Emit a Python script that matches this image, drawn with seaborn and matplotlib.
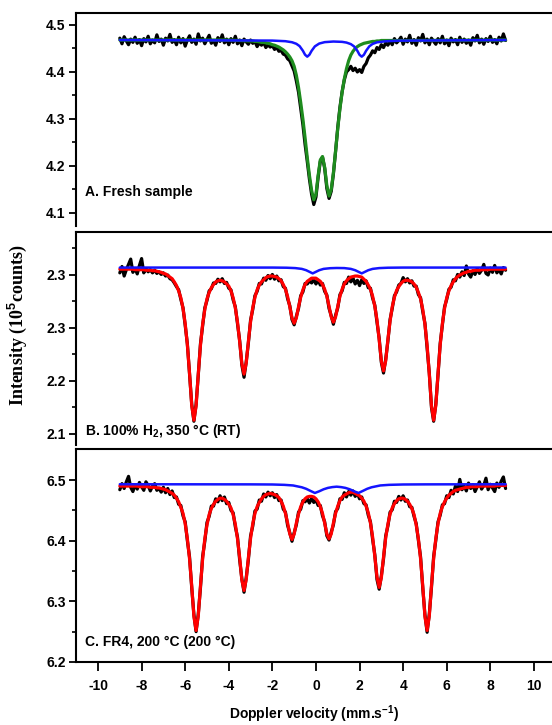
import matplotlib
matplotlib.use("Agg")
import matplotlib.pyplot as plt
import seaborn as sns

# ---------------- data ----------------
VELOCITY = [
    -9.0, -8.9, -8.8, -8.7, -8.6, -8.5, -8.4, -8.3, -8.2, -8.1,
    -8.0, -7.9, -7.8, -7.7, -7.6, -7.5, -7.4, -7.3, -7.2, -7.1,
    -7.0, -6.9, -6.8, -6.7, -6.6, -6.5, -6.4, -6.3, -6.2, -6.1,
    -6.0, -5.9, -5.8, -5.7, -5.6, -5.5, -5.4, -5.3, -5.2, -5.1,
    -5.0, -4.9, -4.8, -4.7, -4.6, -4.5, -4.4, -4.3, -4.2, -4.1,
    -4.0, -3.9, -3.8, -3.7, -3.6, -3.5, -3.4, -3.3, -3.2, -3.1,
    -3.0, -2.9, -2.8, -2.7, -2.6, -2.5, -2.4, -2.3, -2.2, -2.1,
    -2.0, -1.9, -1.8, -1.7, -1.6, -1.5, -1.4, -1.3, -1.2, -1.1,
    -1.0, -0.9, -0.8, -0.7, -0.6, -0.5, -0.4, -0.3, -0.2, -0.1,
    0.0, 0.1, 0.2, 0.3, 0.4, 0.5, 0.6, 0.7, 0.8, 0.9,
    1.0, 1.1, 1.2, 1.3, 1.4, 1.5, 1.6, 1.7, 1.8, 1.9,
    2.0, 2.1, 2.2, 2.3, 2.4, 2.5, 2.6, 2.7, 2.8, 2.9,
    3.0, 3.1, 3.2, 3.3, 3.4, 3.5, 3.6, 3.7, 3.8, 3.9,
    4.0, 4.1, 4.2, 4.3, 4.4, 4.5, 4.6, 4.7, 4.8, 4.9,
    5.0, 5.1, 5.2, 5.3, 5.4, 5.5, 5.6, 5.7, 5.8, 5.9,
    6.0, 6.1, 6.2, 6.3, 6.4, 6.5, 6.6, 6.7, 6.8, 6.9,
    7.0, 7.1, 7.2, 7.3, 7.4, 7.5, 7.6, 7.7, 7.8, 7.9,
    8.0, 8.1, 8.2, 8.3, 8.4, 8.5, 8.6, 8.7,
]

# Panel A - fresh sample
A_DATA = [
    4.472, 4.460, 4.475, 4.466, 4.458, 4.470, 4.463, 4.474, 4.461, 4.469,
    4.456, 4.471, 4.464, 4.476, 4.460, 4.468, 4.462, 4.479, 4.465, 4.470,
    4.457, 4.472, 4.466, 4.480, 4.463, 4.469, 4.458, 4.474, 4.462, 4.471,
    4.455, 4.468, 4.477, 4.463, 4.470, 4.459, 4.481, 4.466, 4.472, 4.460,
    4.469, 4.478, 4.461, 4.467, 4.457, 4.473, 4.465, 4.479, 4.462, 4.470,
    4.458, 4.471, 4.463, 4.476, 4.460, 4.468, 4.456, 4.470, 4.464, 4.459,
    4.468, 4.461, 4.465, 4.454, 4.462, 4.457, 4.463, 4.452, 4.458, 4.453,
    4.456, 4.448, 4.452, 4.444, 4.446, 4.438, 4.436, 4.428, 4.424, 4.413,
    4.402, 4.381, 4.357, 4.322, 4.288, 4.246, 4.210, 4.172, 4.140, 4.118,
    4.134, 4.176, 4.210, 4.219, 4.195, 4.152, 4.131, 4.146, 4.183, 4.231,
    4.282, 4.325, 4.358, 4.383, 4.400, 4.405, 4.412, 4.403, 4.408, 4.400,
    4.405, 4.399, 4.412, 4.418, 4.430, 4.436, 4.445, 4.441, 4.452, 4.448,
    4.458, 4.452, 4.462, 4.457, 4.466, 4.458, 4.471, 4.462, 4.467, 4.474,
    4.459, 4.470, 4.464, 4.478, 4.461, 4.469, 4.457, 4.473, 4.466, 4.480,
    4.462, 4.470, 4.458, 4.472, 4.465, 4.459, 4.471, 4.462, 4.476, 4.460,
    4.468, 4.456, 4.472, 4.464, 4.469, 4.458, 4.474, 4.463, 4.470, 4.461,
    4.468, 4.457, 4.473, 4.466, 4.478, 4.462, 4.470, 4.459, 4.471, 4.465,
    4.476, 4.463, 4.469, 4.460, 4.474, 4.466, 4.481, 4.467,
]
A_GREEN_X = [
    -9.0, -4.0, -3.5,
    -3.0, -2.9, -2.8, -2.7, -2.6, -2.5, -2.4, -2.3, -2.2, -2.1,
    -2.0, -1.9, -1.8, -1.7, -1.6, -1.5, -1.4, -1.3, -1.2, -1.1,
    -1.0, -0.9, -0.8, -0.7, -0.6, -0.5, -0.4, -0.3, -0.2, -0.1,
    0.0, 0.1, 0.2, 0.3, 0.4, 0.5, 0.6, 0.7, 0.8, 0.9,
    1.0, 1.1, 1.2, 1.3, 1.4, 1.5, 1.6, 1.7, 1.8, 1.9,
    2.0, 2.1, 2.2, 2.3, 2.4, 2.5, 2.6, 2.7, 2.8, 2.9,
    3.0, 3.5, 4.0, 8.7,
]
A_GREEN = [
    4.468, 4.468, 4.467,
    4.466, 4.466, 4.465, 4.465, 4.464, 4.463, 4.463, 4.462, 4.461, 4.460,
    4.458, 4.457, 4.455, 4.453, 4.450, 4.447, 4.443, 4.438, 4.432, 4.424,
    4.412, 4.393, 4.367, 4.335, 4.300, 4.260, 4.218, 4.180, 4.148, 4.128,
    4.140, 4.180, 4.213, 4.220, 4.197, 4.158, 4.136, 4.150, 4.185, 4.232,
    4.280, 4.322, 4.357, 4.385, 4.407, 4.424, 4.436, 4.444, 4.450, 4.454,
    4.457, 4.459, 4.461, 4.462, 4.463, 4.464, 4.465, 4.465, 4.466, 4.466,
    4.467, 4.467, 4.467, 4.468,
]
A_BLUE_X = [-9.0, -2.0, -1.4, -1.1, -0.9, -0.75, -0.6, -0.5, -0.4, -0.3,
            -0.2, -0.05, 0.15, 0.4, 0.8, 1.2, 1.4, 1.6, 1.75, 1.9,
            2.0, 2.1, 2.2, 2.3, 2.45, 2.6, 2.8, 3.2, 3.8, 8.7]
A_BLUE = [4.468, 4.4668, 4.4655, 4.4633, 4.460, 4.455, 4.4452, 4.4367, 4.4326, 4.4367,
          4.445, 4.4545, 4.4605, 4.4635, 4.4648, 4.4641, 4.4626, 4.4593, 4.4544, 4.445,
          4.4365, 4.4326, 4.4366, 4.4451, 4.4547, 4.4597, 4.4631, 4.4654, 4.4666, 4.468]

# Panel B - 100% H2, 350 C
B_DATA = [
    2.404, 2.416, 2.398, 2.410, 2.420, 2.430, 2.405, 2.412, 2.402, 2.418,
    2.431, 2.404, 2.412, 2.406, 2.410, 2.404, 2.409, 2.403, 2.406, 2.401,
    2.404, 2.398, 2.400, 2.393, 2.391, 2.385, 2.378, 2.372, 2.354, 2.338,
    2.305, 2.270, 2.212, 2.156, 2.124, 2.156, 2.211, 2.270, 2.304, 2.338,
    2.352, 2.370, 2.374, 2.385, 2.384, 2.392, 2.387, 2.393, 2.384, 2.386,
    2.375, 2.372, 2.353, 2.340, 2.308, 2.276, 2.230, 2.207, 2.236, 2.272,
    2.315, 2.335, 2.361, 2.369, 2.384, 2.383, 2.394, 2.390, 2.399, 2.393,
    2.401, 2.392, 2.398, 2.389, 2.391, 2.378, 2.375, 2.355, 2.342, 2.316,
    2.306, 2.322, 2.337, 2.361, 2.368, 2.384, 2.383, 2.389, 2.385, 2.391,
    2.383, 2.390, 2.381, 2.384, 2.369, 2.362, 2.337, 2.323, 2.307, 2.324,
    2.338, 2.363, 2.370, 2.386, 2.384, 2.396, 2.387, 2.394, 2.383, 2.390,
    2.380, 2.391, 2.384, 2.389, 2.376, 2.375, 2.356, 2.343, 2.311, 2.281,
    2.235, 2.215, 2.241, 2.275, 2.316, 2.337, 2.361, 2.368, 2.381, 2.384,
    2.395, 2.387, 2.393, 2.385, 2.389, 2.379, 2.379, 2.363, 2.357, 2.331,
    2.309, 2.263, 2.215, 2.150, 2.124, 2.157, 2.211, 2.271, 2.305, 2.340,
    2.354, 2.373, 2.377, 2.391, 2.389, 2.401, 2.396, 2.406, 2.399, 2.417,
    2.402, 2.396, 2.408, 2.401, 2.412, 2.403, 2.409, 2.420, 2.403, 2.400,
    2.413, 2.405, 2.418, 2.404, 2.410, 2.402, 2.414, 2.409,
]
B_FIT = [
    2.411, 2.411, 2.411, 2.411, 2.411, 2.411, 2.411, 2.410, 2.410, 2.410,
    2.410, 2.410, 2.409, 2.409, 2.409, 2.408, 2.408, 2.407, 2.406, 2.405,
    2.403, 2.402, 2.399, 2.396, 2.393, 2.387, 2.380, 2.370, 2.357, 2.337,
    2.308, 2.268, 2.214, 2.154, 2.126, 2.153, 2.213, 2.267, 2.307, 2.335,
    2.355, 2.367, 2.376, 2.382, 2.387, 2.389, 2.390, 2.389, 2.387, 2.383,
    2.379, 2.370, 2.357, 2.338, 2.311, 2.274, 2.233, 2.213, 2.234, 2.275,
    2.312, 2.338, 2.358, 2.372, 2.381, 2.387, 2.391, 2.395, 2.397, 2.398,
    2.398, 2.397, 2.396, 2.393, 2.389, 2.382, 2.373, 2.359, 2.340, 2.319,
    2.309, 2.319, 2.340, 2.358, 2.372, 2.382, 2.388, 2.391, 2.394, 2.394,
    2.394, 2.391, 2.388, 2.382, 2.373, 2.360, 2.341, 2.321, 2.311, 2.321,
    2.341, 2.360, 2.373, 2.383, 2.389, 2.393, 2.396, 2.397, 2.398, 2.398,
    2.397, 2.396, 2.392, 2.388, 2.381, 2.373, 2.360, 2.341, 2.315, 2.278,
    2.238, 2.219, 2.238, 2.278, 2.313, 2.340, 2.358, 2.371, 2.378, 2.384,
    2.388, 2.390, 2.390, 2.389, 2.387, 2.383, 2.377, 2.367, 2.355, 2.335,
    2.307, 2.267, 2.213, 2.153, 2.126, 2.154, 2.214, 2.268, 2.308, 2.337,
    2.357, 2.370, 2.380, 2.387, 2.393, 2.397, 2.400, 2.402, 2.404, 2.405,
    2.407, 2.407, 2.408, 2.409, 2.409, 2.409, 2.410, 2.410, 2.410, 2.410,
    2.411, 2.411, 2.411, 2.411, 2.411, 2.411, 2.411, 2.411,
]
B_BLUE_X = [-9.0, -2.0, -1.35, -0.95, -0.65, -0.45, -0.3, -0.15, 0.0, 0.15,
            0.35, 0.65, 0.95, 1.3, 1.6, 1.8, 1.95, 2.1, 2.25, 2.4,
            2.6, 2.9, 3.3, 4.0, 8.7]
B_BLUE = [2.414, 2.414, 2.4137, 2.413, 2.4115, 2.409, 2.406, 2.403, 2.406, 2.409,
          2.4115, 2.4128, 2.4132, 2.413, 2.4115, 2.409, 2.406, 2.403, 2.406, 2.409,
          2.4115, 2.413, 2.4137, 2.414, 2.414]

# Panel C - FR4, 200 C
C_DATA = [
    6.484, 6.494, 6.486, 6.497, 6.506, 6.488, 6.481, 6.492, 6.485, 6.496,
    6.489, 6.483, 6.497, 6.491, 6.482, 6.490, 6.494, 6.483, 6.486, 6.480,
    6.488, 6.479, 6.486, 6.476, 6.482, 6.471, 6.472, 6.460, 6.458, 6.441,
    6.431, 6.400, 6.373, 6.322, 6.278, 6.250, 6.279, 6.322, 6.374, 6.399,
    6.430, 6.440, 6.457, 6.457, 6.469, 6.464, 6.474, 6.466, 6.472, 6.461,
    6.463, 6.450, 6.446, 6.423, 6.406, 6.368, 6.337, 6.315, 6.339, 6.369,
    6.408, 6.424, 6.449, 6.452, 6.467, 6.465, 6.477, 6.472, 6.480, 6.474,
    6.479, 6.471, 6.476, 6.466, 6.467, 6.452, 6.447, 6.425, 6.413, 6.399,
    6.413, 6.426, 6.447, 6.452, 6.466, 6.464, 6.469, 6.462, 6.470, 6.463,
    6.467, 6.458, 6.458, 6.441, 6.431, 6.408, 6.401, 6.414, 6.426, 6.448,
    6.453, 6.469, 6.468, 6.479, 6.472, 6.481, 6.475, 6.482, 6.473, 6.478,
    6.469, 6.472, 6.461, 6.459, 6.442, 6.431, 6.402, 6.377, 6.336, 6.320,
    6.342, 6.370, 6.408, 6.424, 6.447, 6.451, 6.465, 6.463, 6.473, 6.467,
    6.474, 6.465, 6.467, 6.456, 6.455, 6.440, 6.428, 6.400, 6.373, 6.322,
    6.278, 6.249, 6.279, 6.323, 6.374, 6.401, 6.431, 6.442, 6.459, 6.461,
    6.474, 6.471, 6.483, 6.477, 6.490, 6.481, 6.501, 6.484, 6.490, 6.482,
    6.495, 6.486, 6.492, 6.481, 6.489, 6.497, 6.485, 6.491, 6.503, 6.484,
    6.493, 6.487, 6.481, 6.495, 6.488, 6.498, 6.505, 6.486,
]
C_FIT = [
    6.490, 6.490, 6.490, 6.490, 6.490, 6.490, 6.490, 6.490, 6.490, 6.489,
    6.489, 6.489, 6.489, 6.489, 6.488, 6.488, 6.488, 6.487, 6.487, 6.486,
    6.485, 6.484, 6.482, 6.480, 6.478, 6.475, 6.470, 6.464, 6.455, 6.445,
    6.428, 6.403, 6.370, 6.325, 6.275, 6.252, 6.276, 6.325, 6.370, 6.403,
    6.426, 6.443, 6.453, 6.460, 6.465, 6.468, 6.470, 6.470, 6.468, 6.465,
    6.460, 6.454, 6.443, 6.427, 6.403, 6.372, 6.335, 6.318, 6.336, 6.372,
    6.404, 6.428, 6.445, 6.456, 6.463, 6.469, 6.473, 6.476, 6.477, 6.478,
    6.477, 6.476, 6.474, 6.471, 6.465, 6.457, 6.445, 6.429, 6.411, 6.402,
    6.411, 6.429, 6.444, 6.456, 6.464, 6.469, 6.472, 6.473, 6.473, 6.472,
    6.469, 6.464, 6.456, 6.445, 6.429, 6.411, 6.403, 6.411, 6.429, 6.445,
    6.457, 6.466, 6.472, 6.475, 6.477, 6.479, 6.480, 6.480, 6.478, 6.476,
    6.474, 6.470, 6.465, 6.457, 6.446, 6.429, 6.406, 6.374, 6.340, 6.323,
    6.339, 6.373, 6.405, 6.427, 6.444, 6.454, 6.461, 6.466, 6.469, 6.470,
    6.470, 6.468, 6.465, 6.460, 6.453, 6.443, 6.426, 6.403, 6.370, 6.325,
    6.275, 6.252, 6.276, 6.326, 6.371, 6.404, 6.428, 6.445, 6.456, 6.464,
    6.470, 6.475, 6.478, 6.481, 6.483, 6.484, 6.485, 6.486, 6.487, 6.488,
    6.488, 6.489, 6.489, 6.489, 6.489, 6.490, 6.490, 6.490, 6.490, 6.490,
    6.490, 6.490, 6.490, 6.491, 6.491, 6.491, 6.491, 6.491,
]
C_BLUE_X = [-9.0, -3.0, -2.0, -1.45, -1.05, -0.65, -0.45, -0.25, -0.05, 0.15,
            0.35, 0.55, 0.75, 0.95, 1.15, 1.35, 1.55, 1.75, 1.95, 2.15,
            2.35, 2.55, 2.95, 3.35, 4.0, 5.0, 8.7]
C_BLUE = [6.493, 6.4928, 6.4926, 6.492, 6.491, 6.488, 6.4855, 6.482, 6.4786, 6.4814,
          6.4847, 6.487, 6.4883, 6.489, 6.4883, 6.487, 6.4847, 6.4814, 6.4786, 6.482,
          6.4855, 6.488, 6.491, 6.492, 6.4926, 6.4928, 6.493]

PANEL_LABELS = ["A. Fresh sample",
                "B. 100% H$_2$, 350 °C (RT)",
                "C. FR4, 200 °C (200 °C)"]
A_YTICKS = [4.1, 4.2, 4.3, 4.4, 4.5]
A_YTICKLABELS = ["4.1", "4.2", "4.3", "4.4", "4.5"]
A_YMINOR = [4.15, 4.25, 4.35, 4.45]
B_YTICKS = [2.1, 2.2, 2.3, 2.4]
B_YTICKLABELS = ["2.1", "2.2", "2.3", "2.3"]
B_YMINOR = [2.15, 2.25, 2.35, 2.45]
C_YTICKS = [6.2, 6.3, 6.4, 6.5]
C_YTICKLABELS = ["6.2", "6.3", "6.4", "6.5"]
C_YMINOR = [6.25, 6.35, 6.45]
X_TICKS = [-10, -8, -6, -4, -2, 0, 2, 4, 6, 8, 10]
X_TICKLABELS = ["-10", "-8", "-6", "-4", "-2", "0", "2", "4", "6", "8", "10"]

for arr in (A_DATA, B_DATA, B_FIT, C_DATA, C_FIT):
    assert len(arr) == len(VELOCITY), len(arr)
assert len(A_GREEN) == len(A_GREEN_X)
assert len(A_BLUE) == len(A_BLUE_X)
assert len(B_BLUE) == len(B_BLUE_X)
assert len(C_BLUE) == len(C_BLUE_X)

# ---------------- style ----------------
sns.set_theme(style="ticks")
plt.rcParams.update({
    "font.family": ["Liberation Sans", "DejaVu Sans"],
    "font.weight": "bold",
    "mathtext.fontset": "custom",
    "mathtext.rm": "Liberation Sans:bold",
    "mathtext.it": "Liberation Sans:bold",
    "mathtext.bf": "Liberation Sans:bold",
    "mathtext.default": "rm",
    "axes.linewidth": 1.5,
    "axes.edgecolor": "black",
    "xtick.color": "black",
    "ytick.color": "black",
    "text.color": "black",
    "axes.labelcolor": "black",
})

BLACK = "#000000"
RED = "#ff0000"
BLUE = "#1414ff"
GREEN = "#1e8c1e"

fig = plt.figure(figsize=(5.52, 7.25), dpi=100)
W = 552.0
H = 725.0
left = 76 / W
width = 1.0 - left
XLIM = (-11.01, 10.83)


def make_axes(top_px, bottom_px):
    return fig.add_axes([left, 1 - bottom_px / H, width, (bottom_px - top_px) / H])


axA = make_axes(13, 226)
axB = make_axes(232, 445)
axC = make_axes(449, 662)

panels = [
    (axA, A_DATA, A_GREEN_X, A_GREEN, GREEN, A_BLUE_X, A_BLUE, (4.0723, 4.5255),
     A_YTICKS, A_YTICKLABELS, A_YMINOR, PANEL_LABELS[0], 0.160),
    (axB, B_DATA, VELOCITY, B_FIT, RED, B_BLUE_X, B_BLUE, (2.0792, 2.4811),
     B_YTICKS, B_YTICKLABELS, B_YMINOR, PANEL_LABELS[1], 0.066),
    (axC, C_DATA, VELOCITY, C_FIT, RED, C_BLUE_X, C_BLUE, (6.2, 6.5511),
     C_YTICKS, C_YTICKLABELS, C_YMINOR, PANEL_LABELS[2], 0.094),
]

for i, (ax, dat, fx, fy, fcol, bx, by, ylim, yt, ytl, ymin, lab, laby) in enumerate(panels):
    sns.lineplot(x=VELOCITY, y=dat, ax=ax, color=BLACK, linewidth=2.3,
                 estimator=None, sort=False)
    sns.lineplot(x=fx, y=fy, ax=ax, color=fcol, linewidth=2.3,
                 estimator=None, sort=False)
    sns.lineplot(x=bx, y=by, ax=ax, color=BLUE, linewidth=1.8,
                 estimator=None, sort=False)
    ax.set_xlim(*XLIM)
    ax.set_ylim(*ylim)
    ax.set_yticks(yt)
    ax.set_yticklabels(ytl)
    ax.set_yticks(ymin, minor=True)
    ax.set_xlabel("")
    ax.set_ylabel("")
    ax.tick_params(axis="y", which="major", direction="out", length=5, width=1.3,
                   labelsize=10, pad=2.5, left=True, right=False)
    ax.tick_params(axis="y", which="minor", direction="out", length=3, width=1.2,
                   left=True, right=False)
    ax.spines["right"].set_visible(False)
    ax.spines["top"].set_visible(True)
    ax.text(0.019, laby, lab, transform=ax.transAxes, fontsize=10,
            fontweight="bold", ha="left", va="center")
    if i < 2:
        ax.spines["bottom"].set_visible(False)
        ax.tick_params(axis="x", which="both", bottom=False, top=False,
                       labelbottom=False)
    else:
        ax.set_xticks(X_TICKS)
        ax.set_xticklabels(X_TICKLABELS)
        ax.tick_params(axis="x", which="major", direction="out", length=6.5,
                       width=1.3, labelsize=10, pad=6, top=False)
        ax.set_xlabel("Doppler velocity (mm.s$^{-1}$)", fontsize=10,
                      fontweight="bold", labelpad=7)

fig.text(17 / W, 1 - 325 / H, "Intensity (10$^5$counts)", rotation=90,
         family=["Liberation Serif", "DejaVu Serif"], fontsize=13,
         fontweight="bold", ha="center", va="center")

fig.savefig("out.png", dpi=100)
